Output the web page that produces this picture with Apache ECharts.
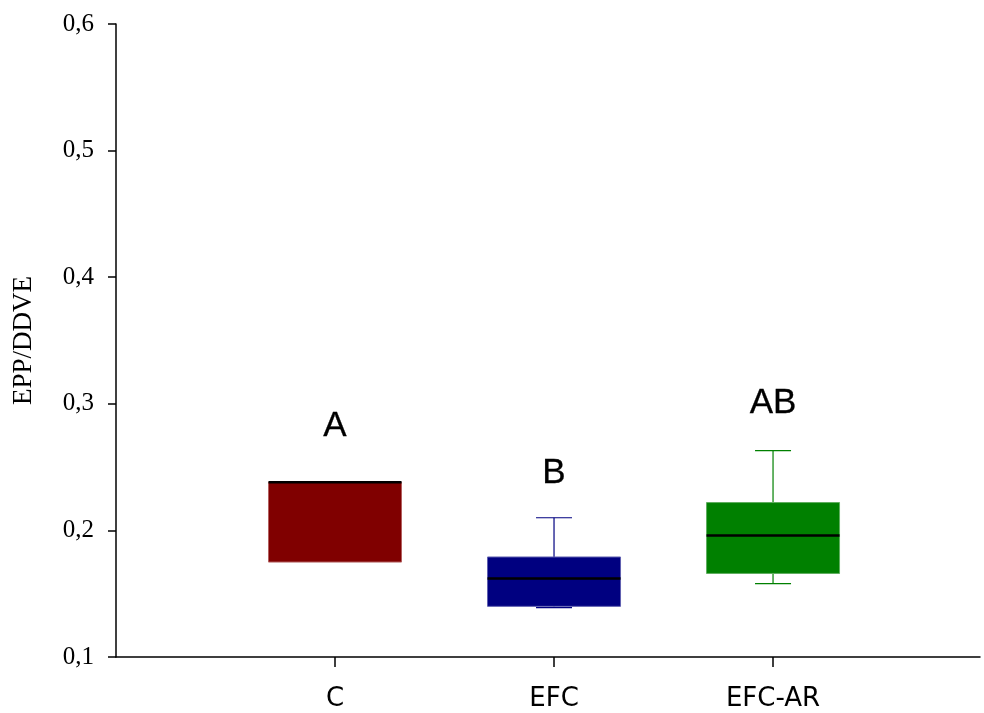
<!DOCTYPE html>
<html>
<head>
<meta charset="utf-8">
<script src="https://cdn.jsdelivr.net/npm/echarts@6/dist/echarts.min.js"></script>
<style>html,body{margin:0;padding:0;background:#fff;}#c{width:984px;height:713px;}</style>
</head>
<body>
<div id="c"></div>
<script>
// Data
var categories = ['C', 'EFC', 'EFC-AR'];
var whiskerMin = [0.175, 0.139, 0.158];
var q1Values   = [0.175, 0.140, 0.166];
var medians    = [0.238, 0.162, 0.196];
var q3Values   = [0.238, 0.179, 0.222];
var whiskerMax = [0.238, 0.210, 0.263];
var letters      = ['A', 'B', 'AB'];
var letterValues = [0.282, 0.245, 0.300];
var yTicks = [0.1, 0.2, 0.3, 0.4, 0.5, 0.6];

// Styles
var boxColors = ['#800000', '#000080', '#008000'];
var boxBorders = ['#b36060', '#6060b0', '#5fae5f'];

var boxData = categories.map(function (c, i) {
  return [i + 1, whiskerMin[i], q1Values[i], medians[i], q3Values[i], whiskerMax[i]];
});
var letterData = categories.map(function (c, i) { return [i + 1, letterValues[i]]; });

var BOX_W = 133, CAP_W = 36;

function renderBox(params, api) {
  var x = api.value(0);
  var i = params.dataIndex;
  var pMin = api.coord([x, api.value(1)]);
  var pQ1 = api.coord([x, api.value(2)]);
  var pMed = api.coord([x, api.value(3)]);
  var pQ3 = api.coord([x, api.value(4)]);
  var pMax = api.coord([x, api.value(5)]);
  var cx = pQ1[0];
  var col = boxColors[i];
  var children = [];
  if (pMax[1] < pQ3[1] - 0.5) {
    children.push({type: 'line', shape: {x1: cx, y1: pMax[1], x2: cx, y2: pQ3[1]}, style: {stroke: col, lineWidth: 1.2}});
    children.push({type: 'line', shape: {x1: cx - CAP_W / 2, y1: pMax[1], x2: cx + CAP_W / 2, y2: pMax[1]}, style: {stroke: col, lineWidth: 1.2}});
  }
  if (pMin[1] > pQ1[1] + 0.5) {
    children.push({type: 'line', shape: {x1: cx, y1: pQ1[1], x2: cx, y2: pMin[1]}, style: {stroke: col, lineWidth: 1.2}});
    children.push({type: 'line', shape: {x1: cx - CAP_W / 2, y1: pMin[1], x2: cx + CAP_W / 2, y2: pMin[1]}, style: {stroke: col, lineWidth: 1.2}});
  }
  children.push({type: 'rect', shape: {x: cx - BOX_W / 2, y: pQ3[1], width: BOX_W, height: pQ1[1] - pQ3[1]},
    style: {fill: col, stroke: boxBorders[i], lineWidth: 1}});
  children.push({type: 'line', shape: {x1: cx - BOX_W / 2, y1: pMed[1], x2: cx + BOX_W / 2, y2: pMed[1]},
    style: {stroke: '#000', lineWidth: 2.6}});
  return {type: 'group', children: children};
}

var chart = echarts.init(document.getElementById('c'), null, {renderer: 'canvas'});
chart.setOption({
  animation: false,
  backgroundColor: '#fff',
  grid: {left: 116, right: 4, top: 24, bottom: 56, containLabel: false},
  xAxis: {
    type: 'value', min: 0, max: 3.945,
    splitLine: {show: false},
    axisLine: {show: true, onZero: false, lineStyle: {color: '#000', width: 1.5}},
    axisTick: {show: true, length: 10, customValues: [1, 2, 3], lineStyle: {color: '#000', width: 1.5}},
    axisLabel: {
      customValues: [1, 2, 3], margin: 29,
      formatter: function (v) { return categories[Math.round(v) - 1] || ''; },
      color: '#000', fontSize: 26, fontFamily: 'DejaVu Sans'
    }
  },
  yAxis: {
    type: 'value', min: yTicks[0], max: yTicks[yTicks.length - 1], interval: 0.1,
    name: 'EPP/DDVE', nameLocation: 'middle', nameGap: 79,
    nameTextStyle: {color: '#000', fontSize: 27, fontFamily: 'Liberation Serif'},
    splitLine: {show: false},
    axisLine: {show: true, lineStyle: {color: '#000', width: 1.5}},
    axisTick: {show: true, length: 8, lineStyle: {color: '#000', width: 1.5}},
    axisLabel: {
      margin: 22, color: '#000', fontSize: 25, fontFamily: 'Liberation Serif',
      formatter: function (v) { return v.toFixed(1).replace('.', ','); }
    }
  },
  series: [
    {type: 'custom', renderItem: renderBox, data: boxData, encode: {x: 0, y: [1, 2, 3, 4, 5]}, clip: false, z: 2},
    {type: 'scatter', data: letterData, symbolSize: 0, silent: true, z: 3,
      itemStyle: {opacity: 1},
      label: {show: true, position: 'inside', color: '#000', opacity: 1, fontSize: 35, fontFamily: 'Liberation Sans',
        textBorderColor: '#000', textBorderWidth: 0.3,
        formatter: function (p) { return letters[p.dataIndex]; }}}
  ]
});
</script>
</body>
</html>
